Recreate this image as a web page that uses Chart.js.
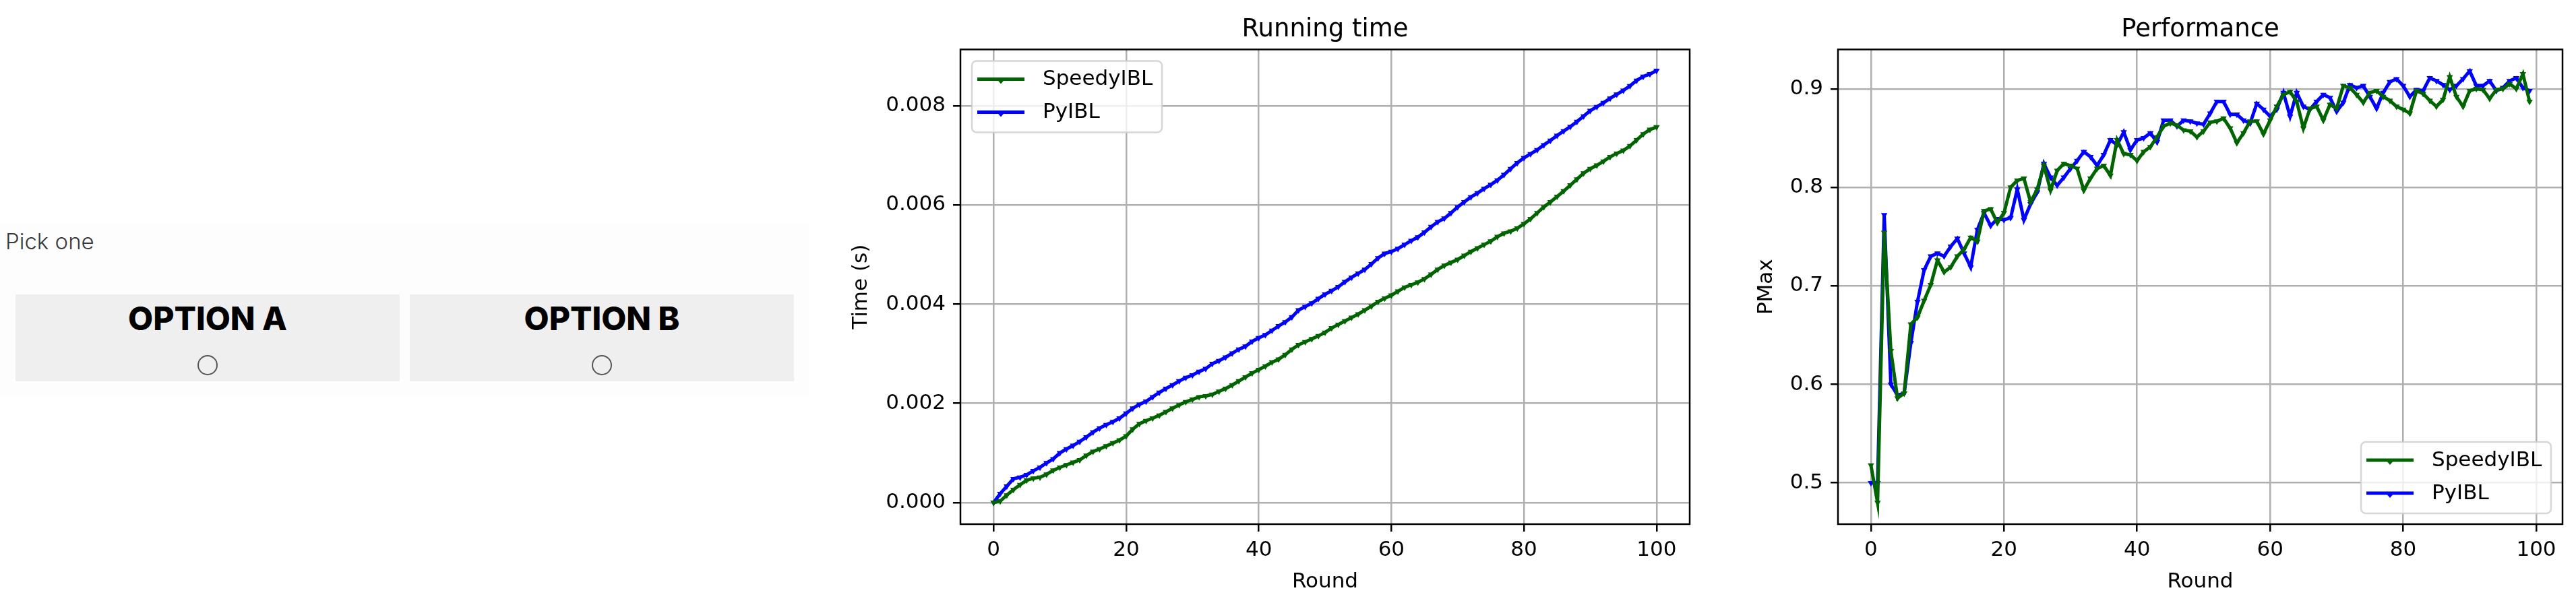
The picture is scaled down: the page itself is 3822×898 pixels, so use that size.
<!DOCTYPE html>
<html>
<head>
<meta charset="utf-8">
<script src="https://cdn.jsdelivr.net/npm/chart.js@4.4.0/dist/chart.umd.min.js"></script>
<style>
  html, body { margin: 0; padding: 0; background: #fff; }
  body { width: 3822px; height: 898px; position: relative; overflow: hidden; }
  .panel { position: absolute; left: 0; top: 331px; width: 1200px; height: 258px; background: #fdfdfd; }
  .pick { position: absolute; left: 8px; top: 342px; font: 300 33px/33px Inter, sans-serif; color: #3a3a3a; }
  .opt { position: absolute; top: 437px; width: 570px; height: 129px; background: #efefef; }
  .opt .name { position: absolute; left: 0; right: 0; top: 12px; text-align: center; font: 800 48px/48px Inter, sans-serif; color: #000; }
  .opt .radio { position: absolute; left: 270px; top: 90px; width: 26px; height: 26px; border: 2px solid #555; border-radius: 50%; }
  canvas { position: absolute; top: 0; }
</style>
</head>
<body>
<div class="panel"></div>
<div class="pick">Pick one</div>
<div class="opt" style="left:23px"><div class="name">OPTION A</div><div class="radio"></div></div>
<div class="opt" style="left:608px"><div class="name">OPTION B</div><div class="radio"></div></div>

<canvas id="timeChart" width="1300" height="898" style="left:1240px"></canvas>
<canvas id="perfChart" width="1262" height="898" style="left:2560px"></canvas>

<script>
const green = "#006400";
const blue = "#0000ff";

// rounds 0..100 for running time, 0..99 for performance
const timeRounds = Array.from({ length: 101 }, (_, i) => i);
const perfRounds = Array.from({ length: 100 }, (_, i) => i);

const roundTicks = [0, 20, 40, 60, 80, 100];
const timeTicks = [0, 0.002, 0.004, 0.006, 0.008];
const perfTicks = [0.5, 0.6, 0.7, 0.8, 0.9];

// running time (s)
const speedyTime = [
  0.00000, 0.00003, 0.00015, 0.00026, 0.00036, 0.00045, 0.00049, 0.00051, 0.00057, 0.00065,
  0.00071, 0.00076, 0.00081, 0.00086, 0.00095, 0.00103, 0.00108, 0.00114, 0.00120, 0.00126,
  0.00134, 0.00148, 0.00159, 0.00165, 0.00170, 0.00176, 0.00183, 0.00190, 0.00197, 0.00203,
  0.00208, 0.00213, 0.00215, 0.00218, 0.00224, 0.00230, 0.00237, 0.00245, 0.00253, 0.00261,
  0.00268, 0.00275, 0.00283, 0.00289, 0.00298, 0.00309, 0.00318, 0.00324, 0.00330, 0.00336,
  0.00343, 0.00352, 0.00359, 0.00366, 0.00373, 0.00380, 0.00388, 0.00396, 0.00405, 0.00412,
  0.00418, 0.00426, 0.00434, 0.00439, 0.00444, 0.00451, 0.00460, 0.00470, 0.00478, 0.00484,
  0.00490, 0.00498, 0.00506, 0.00513, 0.00520, 0.00527, 0.00536, 0.00543, 0.00547, 0.00553,
  0.00562, 0.00572, 0.00584, 0.00596, 0.00606, 0.00617, 0.00628, 0.00640, 0.00652, 0.00664,
  0.00673, 0.00680, 0.00688, 0.00697, 0.00704, 0.00710, 0.00719, 0.00731, 0.00743, 0.00752,
  0.00757,
];
const pyTime = [
  0.00000, 0.00018, 0.00033, 0.00048, 0.00051, 0.00056, 0.00064, 0.00071, 0.00080, 0.00088,
  0.00100, 0.00108, 0.00115, 0.00123, 0.00132, 0.00142, 0.00150, 0.00157, 0.00163, 0.00170,
  0.00180, 0.00190, 0.00198, 0.00204, 0.00213, 0.00222, 0.00230, 0.00237, 0.00245, 0.00252,
  0.00257, 0.00264, 0.00270, 0.00280, 0.00286, 0.00293, 0.00301, 0.00309, 0.00315, 0.00325,
  0.00332, 0.00338, 0.00347, 0.00356, 0.00364, 0.00374, 0.00388, 0.00395, 0.00402, 0.00411,
  0.00420, 0.00427, 0.00435, 0.00445, 0.00454, 0.00462, 0.00470, 0.00481, 0.00493, 0.00502,
  0.00506, 0.00512, 0.00520, 0.00528, 0.00535, 0.00545, 0.00556, 0.00566, 0.00573, 0.00584,
  0.00596, 0.00606, 0.00616, 0.00624, 0.00633, 0.00641, 0.00650, 0.00661, 0.00673, 0.00685,
  0.00695, 0.00703, 0.00711, 0.00721, 0.00730, 0.00740, 0.00749, 0.00758, 0.00768, 0.00779,
  0.00790, 0.00798, 0.00806, 0.00815, 0.00823, 0.00831, 0.00840, 0.00851, 0.00859, 0.00864,
  0.00871,
];

// performance (PMax)
const speedyPerf = [
  0.518, 0.480, 0.754, 0.634, 0.586, 0.591, 0.661, 0.668, 0.685, 0.701,
  0.726, 0.714, 0.719, 0.730, 0.737, 0.749, 0.745, 0.776, 0.778, 0.764,
  0.774, 0.800, 0.807, 0.809, 0.785, 0.798, 0.822, 0.797, 0.817, 0.824,
  0.822, 0.819, 0.797, 0.809, 0.819, 0.822, 0.812, 0.848, 0.834, 0.833,
  0.827, 0.836, 0.841, 0.851, 0.862, 0.865, 0.863, 0.858, 0.857, 0.851,
  0.857, 0.866, 0.867, 0.870, 0.860, 0.845, 0.855, 0.867, 0.867, 0.854,
  0.868, 0.882, 0.894, 0.897, 0.887, 0.860, 0.880, 0.882, 0.868, 0.884,
  0.880, 0.903, 0.901, 0.894, 0.886, 0.896, 0.898, 0.892, 0.888, 0.882,
  0.879, 0.875, 0.898, 0.895, 0.888, 0.882, 0.889, 0.912, 0.892, 0.882,
  0.898, 0.900, 0.899, 0.890, 0.899, 0.900, 0.905, 0.900, 0.915, 0.887,
];
const pyPerf = [
  0.500, 0.500, 0.772, 0.600, 0.589, 0.591, 0.642, 0.684, 0.716, 0.730,
  0.733, 0.730, 0.740, 0.748, 0.733, 0.719, 0.757, 0.774, 0.761, 0.768,
  0.767, 0.769, 0.798, 0.767, 0.783, 0.795, 0.824, 0.810, 0.802, 0.810,
  0.819, 0.827, 0.836, 0.831, 0.822, 0.833, 0.848, 0.843, 0.856, 0.838,
  0.848, 0.850, 0.855, 0.846, 0.868, 0.868, 0.862, 0.868, 0.867, 0.865,
  0.864, 0.875, 0.887, 0.887, 0.874, 0.874, 0.868, 0.865, 0.885, 0.879,
  0.872, 0.879, 0.896, 0.872, 0.896, 0.882, 0.879, 0.887, 0.894, 0.891,
  0.877, 0.886, 0.904, 0.901, 0.903, 0.892, 0.880, 0.896, 0.907, 0.910,
  0.903, 0.892, 0.899, 0.898, 0.911, 0.908, 0.904, 0.899, 0.903, 0.910,
  0.918, 0.903, 0.903, 0.908, 0.898, 0.901, 0.908, 0.911, 0.901, 0.898,
];

const family = "'DejaVu Sans', sans-serif";
const tickFont = { family: family, size: 31 };

// black box round the plot area, like matplotlib spines
const framePlugin = {
  id: "frame",
  afterDatasetsDraw(chart) {
    const { ctx, chartArea: a } = chart;
    ctx.save();
    ctx.strokeStyle = "#000";
    ctx.lineWidth = 2.5;
    ctx.strokeRect(a.left, a.top, a.right - a.left, a.bottom - a.top);
    ctx.restore();
  },
};

// legend drawn inside the plot area
const insetLegend = {
  id: "insetLegend",
  afterDraw(chart, args, opts) {
    const { ctx, chartArea: a } = chart;
    const w = 282, h = 106;
    const x0 = opts.corner === "tl" ? a.left + 17 : a.right - 17 - w;
    const y0 = opts.corner === "tl" ? a.top + 17 : a.bottom - 16 - h;
    ctx.save();
    ctx.beginPath();
    ctx.roundRect(x0, y0, w, h, 7);
    ctx.fillStyle = "rgba(255,255,255,0.8)";
    ctx.fill();
    ctx.strokeStyle = "rgba(204,204,204,0.8)";
    ctx.lineWidth = 2.5;
    ctx.stroke();
    ctx.font = "31px " + family;
    ctx.textBaseline = "middle";
    chart.data.datasets.forEach((ds, i) => {
      const y = y0 + 27 + i * 49;
      ctx.strokeStyle = ds.borderColor;
      ctx.lineWidth = 5;
      ctx.beginPath();
      ctx.moveTo(x0 + 8, y);
      ctx.lineTo(x0 + 78, y);
      ctx.stroke();
      ctx.fillStyle = ds.borderColor;
      ctx.beginPath();
      ctx.moveTo(x0 + 37, y);
      ctx.lineTo(x0 + 49, y);
      ctx.lineTo(x0 + 43, y + 7);
      ctx.closePath();
      ctx.fill();
      ctx.fillStyle = "#000";
      ctx.fillText(ds.label, x0 + 105, y + 1);
    });
    ctx.restore();
  },
};

function series(label, color, xs, ys) {
  return {
    label: label,
    data: xs.map((x, i) => ({ x: x, y: ys[i] })),
    borderColor: color,
    backgroundColor: color,
    borderWidth: 5,
    tension: 0,
    pointStyle: "triangle",
    rotation: 180,
    pointRadius: 4,
    pointBorderWidth: 1.5,
  };
}

function makeChart(id, cfg) {
  return new Chart(document.getElementById(id), {
    type: "line",
    data: { datasets: cfg.datasets },
    plugins: [framePlugin, insetLegend],
    options: {
      responsive: false,
      animation: false,
      devicePixelRatio: 1,
      layout: { padding: { left: 0, right: cfg.padRight, top: 0, bottom: 0 } },
      plugins: {
        legend: { display: false },
        tooltip: { enabled: false },
        title: {
          display: true,
          text: cfg.title,
          fullSize: false,
          color: "#000",
          font: { family: family, size: 37, weight: "normal" },
          padding: { top: 22, bottom: 7 },
        },
        insetLegend: { corner: cfg.legendCorner },
      },
      scales: {
        x: {
          type: "linear",
          min: cfg.xMin,
          max: cfg.xMax,
          afterBuildTicks: (s) => { s.ticks = roundTicks.map((v) => ({ value: v })); },
          afterFit: (s) => { s.height = 120; },
          ticks: { font: tickFont, color: "#000", padding: 9, autoSkip: false, maxRotation: 0, callback: (v) => String(v) },
          grid: { color: "#b0b0b0", lineWidth: 2.5, tickColor: "#000", tickLength: 11, tickWidth: 2.5 },
          border: { display: false },
          title: { display: true, text: "Round", color: "#000", font: tickFont, padding: { top: 0, bottom: 15 } },
        },
        y: {
          type: "linear",
          min: cfg.yMin,
          max: cfg.yMax,
          afterBuildTicks: (s) => { s.ticks = cfg.yTicks.map((v) => ({ value: v })); },
          afterFit: (s) => { s.width = cfg.yWidth; },
          ticks: { font: tickFont, color: "#000", padding: 11, autoSkip: false, callback: (v) => v.toFixed(cfg.digits) },
          grid: { color: "#b0b0b0", lineWidth: 2.5, tickColor: "#000", tickLength: 11, tickWidth: 2.5 },
          border: { display: false },
          title: { display: true, text: cfg.yLabel, color: "#000", font: tickFont, padding: { top: cfg.yTitlePad, bottom: 0 } },
        },
      },
    },
  });
}

makeChart("timeChart", {
  title: "Running time",
  yLabel: "Time (s)",
  datasets: [
    series("SpeedyIBL", green, timeRounds, speedyTime),
    series("PyIBL", blue, timeRounds, pyTime),
  ],
  xMin: -5, xMax: 105,
  yMin: -0.000435, yMax: 0.009135,
  yTicks: timeTicks, digits: 3,
  yWidth: 185, yTitlePad: 19, padRight: 33,
  legendCorner: "tl",
});

makeChart("perfChart", {
  title: "Performance",
  yLabel: "PMax",
  datasets: [
    series("SpeedyIBL", green, perfRounds, speedyPerf),
    series("PyIBL", blue, perfRounds, pyPerf),
  ],
  xMin: -4.95, xMax: 103.95,
  yMin: 0.4581, yMax: 0.9399,
  yTicks: perfTicks, digits: 1,
  yWidth: 167, yTitlePad: 42, padRight: 20,
  legendCorner: "br",
});
</script>
</body>
</html>
